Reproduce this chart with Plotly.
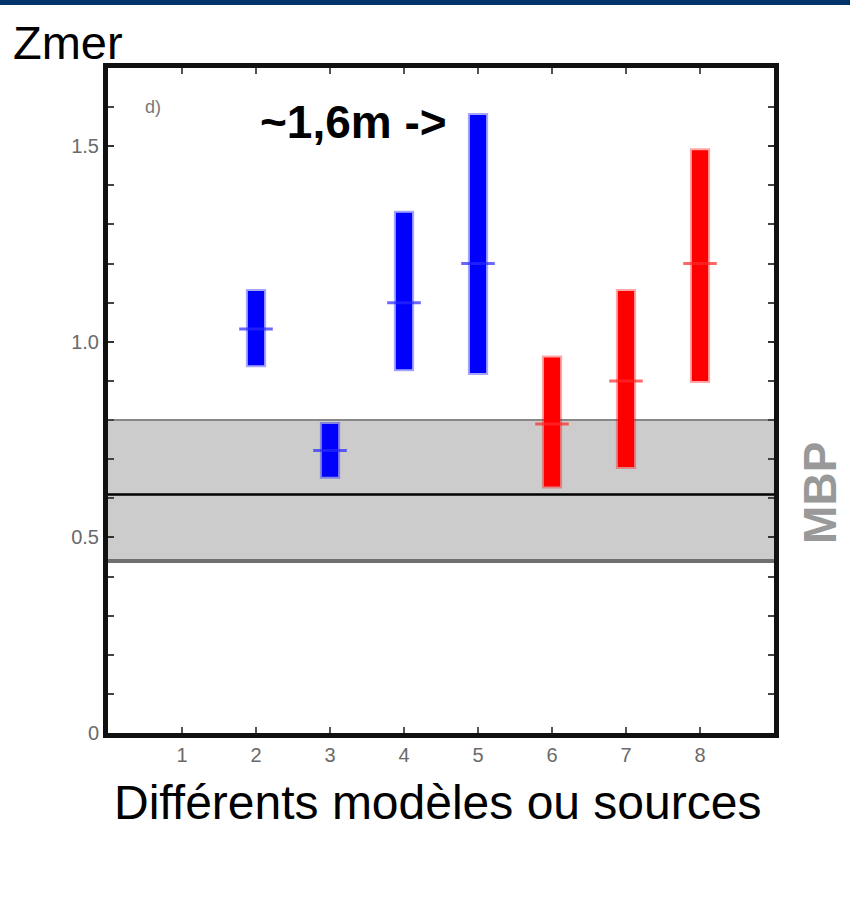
import plotly.graph_objects as go

# ---- data ----
models = [2, 3, 4, 5, 6, 7, 8]
low = [0.94, 0.655, 0.93, 0.92, 0.63, 0.68, 0.90]
high = [1.13, 0.79, 1.33, 1.58, 0.96, 1.13, 1.49]
mid = [1.033, 0.722, 1.10, 1.20, 0.79, 0.90, 1.20]
groups = ["b", "b", "b", "b", "r", "r", "r"]

mbp_low = 0.44
mbp_high = 0.80
mbp_mid = 0.61

xticks = [1, 2, 3, 4, 5, 6, 7, 8]
yticks = [0, 0.5, 1.0, 1.5]
yticktext = ["0", "0.5", "1.0", "1.5"]

FONT = "Liberation Sans, Arial, sans-serif"

fill = {"b": "#0000ff", "r": "#ff0000"}
edge = {"b": "rgba(0,0,255,0.35)", "r": "rgba(255,0,0,0.35)"}
tick = {"b": "rgba(40,40,255,0.7)", "r": "rgba(255,40,40,0.7)"}

fig = go.Figure()

for g in ["b", "r"]:
    idx = [i for i, gg in enumerate(groups) if gg == g]
    fig.add_trace(go.Bar(
        x=[models[i] for i in idx],
        y=[high[i] - low[i] for i in idx],
        base=[low[i] for i in idx],
        width=0.22,
        marker=dict(color=fill[g], line=dict(color=edge[g], width=4)),
        showlegend=False, hoverinfo="skip",
    ))
    fig.add_trace(go.Scatter(
        x=[models[i] for i in idx],
        y=[mid[i] for i in idx],
        mode="markers",
        marker=dict(symbol="line-ew", size=24,
                    line=dict(color=tick[g], width=3)),
        showlegend=False, hoverinfo="skip",
    ))

# MBP band
fig.add_shape(type="rect", xref="paper", yref="y", x0=0, x1=1,
              y0=mbp_low, y1=mbp_high, fillcolor="#cccccc",
              line=dict(width=0), layer="below")
fig.add_shape(type="line", xref="paper", yref="y", x0=0, x1=1,
              y0=mbp_high, y1=mbp_high, line=dict(color="#888888", width=2),
              layer="below")
fig.add_shape(type="line", xref="paper", yref="y", x0=0, x1=1,
              y0=mbp_low, y1=mbp_low, line=dict(color="#707070", width=4),
              layer="below")
fig.add_shape(type="line", xref="paper", yref="y", x0=0, x1=1,
              y0=mbp_mid, y1=mbp_mid, line=dict(color="#000000", width=2.5),
              layer="below")

# navy bar at the very top
fig.add_shape(type="rect", xref="paper", yref="paper",
              x0=-0.2, x1=1.2, y0=1.0947, y1=1.11,
              fillcolor="#00356b", line=dict(width=0))

annotations = [
    dict(text="Zmer", x=-0.146, y=1.039, xref="paper", yref="paper",
         xanchor="left", yanchor="middle", showarrow=False,
         font=dict(family=FONT, size=47, color="black")),
    dict(text="d)", x=0.068, y=0.941, xref="paper", yref="paper",
         xanchor="center", yanchor="middle", showarrow=False,
         font=dict(family=FONT, size=18, color="#777777")),
    dict(text="<b>~1,6m -></b>", x=0.369, y=0.919, xref="paper", yref="paper",
         xanchor="center", yanchor="middle", showarrow=False,
         font=dict(family=FONT, size=46, color="black")),
    dict(text="<b>MBP</b>", x=1.069, y=0.361, xref="paper", yref="paper",
         xanchor="center", yanchor="middle", showarrow=False, textangle=-90,
         font=dict(family=FONT, size=46, color="#999999")),
    dict(text="Différents modèles ou sources", x=0.495, y=-0.105,
         xref="paper", yref="paper", xanchor="center", yanchor="middle",
         showarrow=False, font=dict(family=FONT, size=48, color="black")),
]

fig.update_layout(
    width=850, height=907,
    margin=dict(l=108, r=76, t=68, b=174),
    paper_bgcolor="white", plot_bgcolor="white",
    barmode="overlay",
    annotations=annotations,
    font=dict(family=FONT),
)

fig.update_xaxes(
    range=[0, 9], tickvals=xticks, ticktext=[str(v) for v in xticks],
    ticks="inside", ticklen=6, tickwidth=2, tickcolor="#555555",
    showline=True, linewidth=5, linecolor="#111111", mirror="ticks",
    showgrid=False, zeroline=False,
    tickfont=dict(family=FONT, size=20, color="#6a6a6a"),
)
fig.update_yaxes(
    range=[0, 1.7], tickvals=yticks, ticktext=yticktext,
    ticks="inside", ticklen=6, tickwidth=2, tickcolor="#333333",
    minor=dict(dtick=0.1, tick0=0, ticks="inside", ticklen=6, tickwidth=2,
               tickcolor="#444444", showgrid=False),
    showline=True, linewidth=5, linecolor="#111111", mirror="ticks",
    showgrid=False, zeroline=False,
    tickfont=dict(family=FONT, size=20, color="#6a6a6a"),
)

fig.write_html("out.html")
